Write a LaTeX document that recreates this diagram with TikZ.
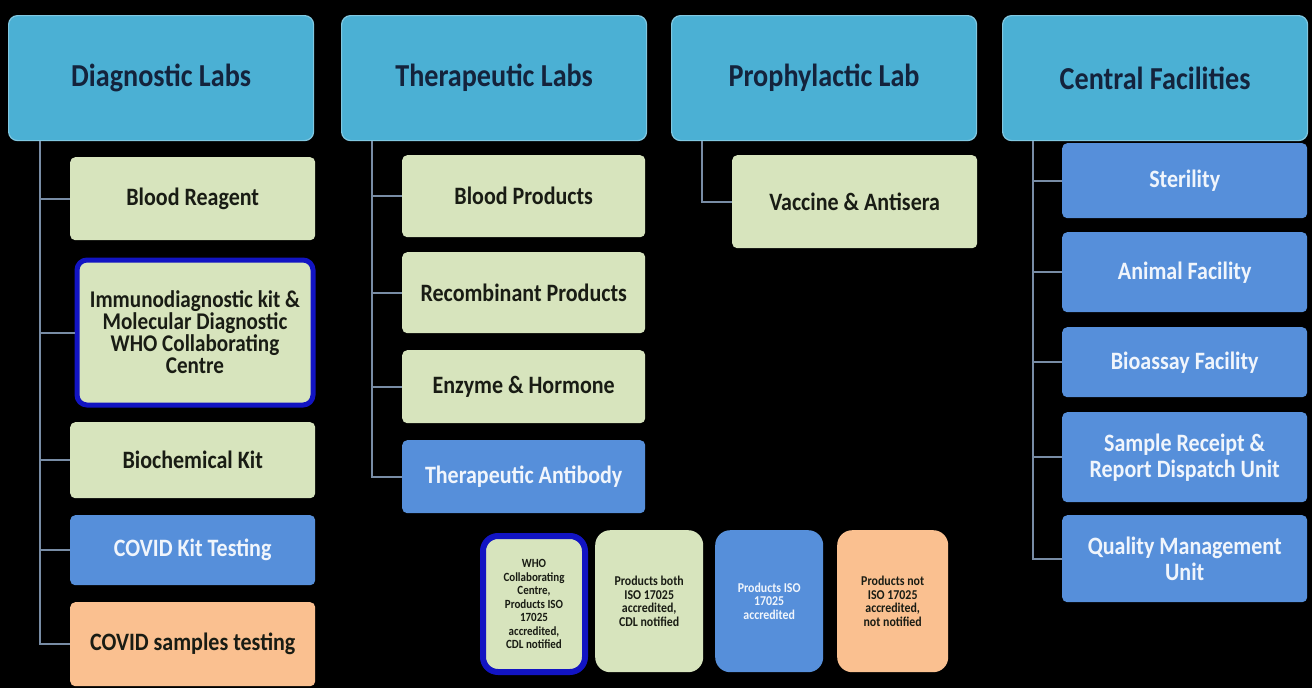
\documentclass[tikz,border=0pt]{standalone}
\usepackage{fontspec}
\setmainfont{Carlito}[FakeStretch=0.88]
\definecolor{hdrc}{RGB}{75,176,212}
\definecolor{grn}{RGB}{215,228,189}
\definecolor{blu}{RGB}{86,143,218}
\definecolor{pch}{RGB}{250,192,144}
\definecolor{navy}{RGB}{18,20,195}
\definecolor{hdrtxt}{RGB}{20,35,60}
\definecolor{drk}{RGB}{25,28,20}
\definecolor{wht}{RGB}{240,245,252}
\definecolor{conn}{RGB}{120,140,165}
\tikzset{
  hdr/.style={anchor=north west, rounded corners=9pt, fill=hdrc, draw=hdrc!70!white, line width=1.2pt,
    minimum width=305pt, minimum height=125pt, text=hdrtxt, font=\fontsize{32}{34}\selectfont\bfseries},
  kid/.style={anchor=north west, rounded corners=5pt, minimum width=245pt, align=center,
    font=\fontsize{25}{26}\selectfont\bfseries},
  gbox/.style={kid, fill=grn, text=drk},
  bbox/.style={kid, fill=blu, text=wht},
  pbox/.style={kid, fill=pch, text=drk},
  wbox/.style={kid, fill=grn, text=drk, draw=navy, line width=5pt, rounded corners=10pt},
  leg/.style={anchor=north west, rounded corners=15pt, minimum height=142pt, align=center,
    font=\fontsize{13.5}{13.5}\selectfont\bfseries},
  link/.style={draw=conn, line width=2pt}
}
\begin{document}
\begin{tikzpicture}[x=1pt,y=-1pt]
\fill[black] (0,0) rectangle (1312,688);
\useasboundingbox (0,0) rectangle (1312,688);

% headers
\node[hdr] (dH) at (8,15) {Diagnostic Labs};
\node[hdr] (tH) at (341,15) {Therapeutic Labs};
\node[hdr] (pH) at (671,15) {Prophylactic Lab};
\node[hdr] (cH) at (1002,15) {Central Facilities};

% diagnostic
\node[gbox, minimum height=83pt] (d1) at (70,157) {Blood Reagent};
\node[wbox, minimum width=236pt, minimum height=145pt, font=\fontsize{24}{22}\selectfont\bfseries] (d2) at (74.5,257.5)
  {Immunodiagnostic kit \&\\Molecular Diagnostic\\WHO Collaborating\\Centre};
\node[gbox, minimum height=76pt] (d3) at (70,422) {Biochemical Kit};
\node[bbox, minimum height=70pt] (d4) at (70,515) {COVID Kit Testing};
\node[pbox, minimum height=84pt] (d5) at (70,602) {COVID samples testing};

% therapeutic
\node[gbox, minimum width=243pt, minimum height=82pt] (t1) at (402,155) {Blood Products};
\node[gbox, minimum width=243pt, minimum height=81pt] (t2) at (402,252) {Recombinant Products};
\node[gbox, minimum width=243pt, minimum height=73pt] (t3) at (402,350) {Enzyme \& Hormone};
\node[bbox, minimum width=243pt, minimum height=73pt] (t4) at (402,440) {Therapeutic Antibody};

% prophylactic
\node[gbox, minimum height=93pt] (p1) at (732,155) {Vaccine \& Antisera};

% central
\node[bbox, minimum height=75pt] (c1) at (1062,143) {Sterility};
\node[bbox, minimum height=80pt] (c2) at (1062,232) {Animal Facility};
\node[bbox, minimum height=70pt] (c3) at (1062,327) {Bioassay Facility};
\node[bbox, minimum height=90pt] (c4) at (1062,412) {Sample Receipt \&\\Report Dispatch Unit};
\node[bbox, minimum height=87pt] (c5) at (1062,515) {Quality Management\\Unit};

% trunks
\coordinate (dT) at ([xshift=32pt]dH.south west);
\coordinate (tT) at ([xshift=31pt]tH.south west);
\coordinate (pT) at ([xshift=31pt]pH.south west);
\coordinate (cT) at ([xshift=31pt]cH.south west);
\foreach \k in {d1,d2,d3,d4,d5} \draw[link] (dT) |- (\k.west);
\foreach \k in {t1,t2,t3,t4} \draw[link] (tT) |- (\k.west);
\draw[link] (pT) |- (p1.west);
\foreach \k in {c1,c2,c3,c4,c5} \draw[link] (cT) |- (\k.west);

% legend
\node[leg, fill=grn, text=drk, draw=navy, line width=6pt, minimum width=102pt, minimum height=136pt,
  font=\fontsize{12.5}{13.5}\selectfont\bfseries] (l1) at (480,533)
  {WHO\\Collaborating\\Centre,\\Products ISO\\17025\\accredited,\\CDL notified};
\node[leg, fill=grn, text=drk, minimum width=108pt] (l2) at (595,530)
  {Products both\\ISO 17025\\accredited,\\CDL notified};
\node[leg, fill=blu, text=wht, minimum width=108pt] (l3) at (715,530)
  {Products ISO\\17025\\accredited};
\node[leg, fill=pch, text=drk, minimum width=111pt] (l4) at (837,530)
  {Products not\\ISO 17025\\accredited,\\not notified};
\end{tikzpicture}
\end{document}
